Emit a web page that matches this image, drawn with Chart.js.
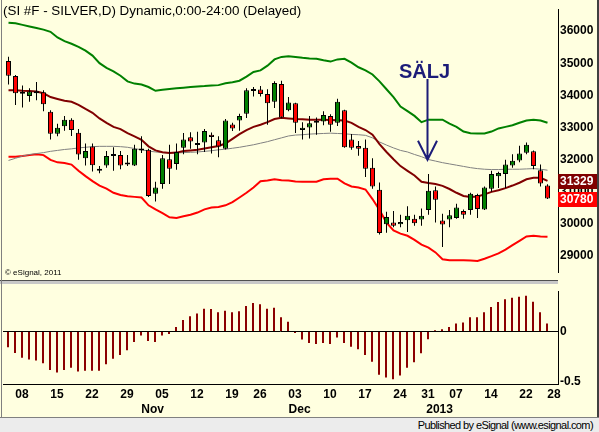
<!DOCTYPE html>
<html>
<head>
<meta charset="utf-8">
<script src="https://cdn.jsdelivr.net/npm/chart.js@4.4.1/dist/chart.umd.min.js"></script>
<style>
  html, body { margin: 0; padding: 0; background: #fff; }
  #wrap { position: relative; width: 599px; height: 432px; background: #FFFFE0; overflow: hidden; font-family: "Liberation Sans", Arial, sans-serif; }
  canvas { position: absolute; left: 0; }
  #main { top: 0; }
  #osc { top: 282px; }
  #sep { position: absolute; left: 0; top: 280px; width: 558px; height: 4px; background: #C8C8C8; border-top: 1px solid #505050; box-sizing: border-box; }
  #leftEdge { position: absolute; left: 1px; top: 0; width: 1px; height: 417px; background: #808080; }
  #rightEdge { position: absolute; left: 597px; top: 0; width: 2px; height: 432px; background: #404040; }
  #title { position: absolute; left: 3px; top: 4px; font-size: 13.4px; line-height: 14px; color: #000; white-space: nowrap; }
  #copy { position: absolute; left: 5px; top: 269px; font-size: 8px; line-height: 8px; color: #000; white-space: nowrap; }
  #footer { position: absolute; left: 0; top: 417px; width: 599px; height: 15px; background: #ECECEC; border-top: 1px solid #808080; box-sizing: border-box; }
  #footer span { position: absolute; right: 6px; top: 1px; font-size: 11px; letter-spacing: -0.6px; color: #000; white-space: nowrap; }
</style>
</head>
<body>
<div id="wrap">
  <canvas id="main" width="599" height="282"></canvas>
  <canvas id="osc" width="599" height="136"></canvas>
  <div id="sep"></div>
  <div id="leftEdge"></div>
  <div id="rightEdge"></div>
  <div id="title">(SI #F - SILVER,D) Dynamic,0:00-24:00 (Delayed)</div>
  <div id="copy">© eSignal, 2011</div>
  <div id="footer"><span>Published by eSignal (www.esignal.com)</span></div>
</div>
<script>
// daily candles, 4 Oct 2012 .. 25 Jan 2013 (index 0..77)
const openP = [35070,34600,34050,33975,34060,34090,33485,32800,33035,33240, 32830,32035,32405,31710,31810,32160,32135,31840,31810,32280, 32300,30930,31235,32005,31860,32360,32690,32445,32525,32770, 32595,32330,33090,33210,33425,34130,34180,34040,33795,34355, 33535,33750,32915,32995,33140,33180,33355,33140,33535,32620, 32415,32360,31740,31055,29980,30030,29980,30105,30145,30125, 30420,31035,30095,30125,30175,30390,30420,30890,30440,31085, 31475,31545,31810,31965,32210,32250,31665,31185];
const highP = [35200,34630,34305,34220,34415,34160,33535,33110,33355,33280, 32945,32495,32495,31790,32260,32380,32260,32135,32455,32720, 32330,31300,32135,32455,32495,32820,32850,32865,32945,32840, 32720,33260,33140,33425,34220,34255,34285,34190,34435,34455, 33945,33770,33160,33355,33310,33505,33405,33895,33550,32790, 32575,32620,32035,31280,30370,30390,30275,30540,30275,30470, 31545,31155,30305,30420,30615,30440,30960,30930,31155,31645, 31615,31985,32160,32425,32525,32280,31840,31225];
const lowP = [34335,33700,33620,33795,33845,33505,32620,32720,32895,32730, 31985,31810,31625,31565,31740,31645,31695,31790,31790,32200, 30830,30685,31085,31235,31675,32160,32330,32160,32230,32180, 32065,32310,32885,32895,33290,33965,33965,33080,33600,33280, 33505,32820,32620,32650,32770,33065,32865,33045,32360,32300, 32115,31450,31085,29655,29715,29880,29880,29735,29930,29930, 30275,30030,29265,29880,30145,30145,30275,30175,30420,30990, 31105,31105,31740,31910,32160,31695,31155,30765];
const closeP = [34610,34060,34060,34120,34120,33720,32800,32985,33240,32915, 32155,32260,31820,31645,32105,32105,31810,31840,32330,32280, 30860,31125,32035,31710,32230,32620,32555,32505,32885,32700, 32405,33210,32965,33355,34160,34150,34040,33750,34385,33310, 33775,33140,32985,33130,33140,33385,33080,33795,32380,32360, 32330,31710,31155,29705,30205,29930,30050,30245,30010,30245, 31025,30745,29970,30255,30500,30275,30930,30450,31125,31545, 31575,31840,31955,32180,32455,31790,31250,30780];

// overlay lines
const upperBand = [36263,36244,36195,36146,36097,36048,35979,35803,35686,35607, 35510,35392,35236,35001,34854,34746,34609,34433,34364,34335, 34257,34139,34169,34198,34218,34237,34257,34276,34286,34306, 34316,34374,34404,34453,34580,34727,34776,34922,35118,35196, 35216,35196,35167,35147,35138,35089,35050,35118,35138,35020, 34873,34776,34648,34433,34188,33944,33650,33503,33356,33161, 33239,33239,33239,33112,33014,32867,32818,32808,32808,32867, 32965,33014,33063,33141,33210,33239,33210,33141];
const midLine = [34159,34159,34139,34130,34120,34061,33944,33885,33826,33797, 33699,33572,33454,33278,33141,33014,32945,32818,32720,32613, 32407,32280,32221,32202,32211,32260,32280,32299,32339,32378, 32417,32495,32642,32789,32916,33014,33082,33161,33259,33298, 33278,33259,33249,33239,33239,33239,33229,33219,33210,33141, 33014,32916,32769,32476,32231,32006,31791,31644,31497,31301, 31262,31233,31174,31076,30959,30861,30831,30841,30910,30988, 31037,31105,31184,31272,31379,31428,31428,31329];
const slowLine = [31967,32035,32104,32153,32182,32211,32251,32280,32309,32329, 32358,32378,32397,32407,32407,32407,32397,32378,32339,32299, 32260,32231,32211,32202,32202,32211,32221,32231,32251,32270, 32299,32319,32348,32378,32417,32456,32505,32554,32613,32671, 32730,32759,32769,32789,32799,32808,32818,32808,32799,32779, 32769,32750,32671,32544,32446,32358,32280,32231,32153,32084, 31996,31947,31898,31859,31820,31781,31742,31712,31693,31683, 31683,31693,31693,31693,31703,31712,31693,31663];
const lowerBand = [32084,32084,32104,32133,32162,32133,31986,31908,31888,31839, 31644,31477,31321,31184,31086,30959,30890,30851,30831,30812, 30567,30440,30323,30195,30176,30225,30274,30342,30440,30499, 30518,30567,30665,30812,30959,31125,31321,31340,31379,31350, 31340,31311,31301,31301,31301,31379,31399,31399,31252,31154, 31125,31060,30763,30420,30029,29784,29686,29618,29491,29344, 29246,29099,28884,28854,28854,28854,28844,28834,28903,28982, 29070,29187,29324,29461,29598,29618,29598,29588];

// lower panel oscillator
const oscValues = [-0.156,-0.214,-0.260,-0.279,-0.288,-0.316,-0.383,-0.407,-0.383,-0.361, -0.398,-0.389,-0.389,-0.389,-0.325,-0.270,-0.233,-0.187,-0.104,-0.040, -0.095,-0.104,-0.040,-0.025,0.043,0.113,0.150,0.178,0.224,0.221, 0.190,0.205,0.190,0.199,0.251,0.282,0.270,0.224,0.233,0.141, 0.095,-0.015,-0.080,-0.116,-0.126,-0.116,-0.126,-0.061,-0.116,-0.153, -0.178,-0.233,-0.300,-0.429,-0.456,-0.475,-0.438,-0.361,-0.306,-0.217, -0.077,0.012,0.021,0.043,0.077,0.089,0.141,0.141,0.190,0.242, 0.291,0.319,0.334,0.343,0.352,0.294,0.190,0.077];

// axis ticks
const priceTicks = [29000, 30000, 31000, 32000, 33000, 34000, 35000, 36000];
const oscTicks = [-0.5, 0];
const oscTickText = ['-0.5', '0'];
const dayTickIdx = [2, 7, 12, 17, 22, 27, 32, 36, 41, 46, 51, 56, 60, 64, 69, 74, 78];
const dayTickText = ['08','15','22','29','05','12','19','26','03','10','17','24','31','07','14','22','28'];
const monthIdx = [20, 41, 61];
const monthText = ['Nov', 'Dec', '2013'];

// sell signal
const sellIdx = 60;
const sellTop = 34510;
const sellTip = 31990;
const sellText = 'SÄLJ';

const tickFont = { family: '"Liberation Sans", Arial, sans-serif', size: 12, weight: 'bold' };
const idx = closeP.map((_, i) => i);
const candleColor = closeP.map((c, i) => c > openP[i] ? '#008000' : (c < openP[i] ? '#FF0000' : '#000000'));
const xRange = { type: 'linear', min: -5.5 / 7, max: 78.5, offset: false };
// lower panel shifted half a pixel so the 2px bars land on whole pixels
const xRangeOsc = { type: 'linear', min: -5 / 7, max: 78.5 + 0.5 / 7, offset: false };

function lineSet(label, values, color, width, order) {
    return {
        type: 'line', label: label,
        data: values.map((v, i) => ({ x: i, y: v })),
        borderColor: color, borderWidth: width,
        pointRadius: 0, tension: 0, fill: false, order: order
    };
}

// sell arrow, SÄLJ label and last-value boxes
const overlays = {
    id: 'overlays',
    afterDatasetsDraw(chart) {
        const { ctx, scales: { x, y } } = chart;
        const px = Math.round(x.getPixelForValue(sellIdx)) - 0.5;
        const top = y.getPixelForValue(sellTop);
        const tip = y.getPixelForValue(sellTip);
        ctx.save();
        ctx.strokeStyle = '#1C1C78';
        ctx.lineWidth = 2;
        ctx.beginPath();
        ctx.moveTo(px, top);
        ctx.lineTo(px, tip);
        ctx.moveTo(px - 9.5, tip - 19);
        ctx.lineTo(px, tip);
        ctx.lineTo(px + 9.5, tip - 19);
        ctx.stroke();
        ctx.fillStyle = '#1C1C78';
        ctx.font = 'bold 20px "Liberation Sans", Arial, sans-serif';
        ctx.textAlign = 'center';
        ctx.textBaseline = 'alphabetic';
        ctx.fillText(sellText, px - 3, top - 1);
        ctx.restore();
    },
    afterDraw(chart) {
        const { ctx, chartArea, scales: { y } } = chart;
        const boxes = [[midLine[midLine.length - 1], '#800000'], [closeP[closeP.length - 1], '#FF0000']];
        ctx.save();
        ctx.font = 'bold 12px "Liberation Sans", Arial, sans-serif';
        ctx.textBaseline = 'middle';
        ctx.textAlign = 'left';
        boxes.forEach(([v, bg]) => {
            const py = Math.round(y.getPixelForValue(v));
            ctx.fillStyle = bg;
            ctx.fillRect(chartArea.right, py - 7, chart.width - chartArea.right, 15);
            ctx.fillStyle = '#FFFFFF';
            ctx.fillText(String(v), chartArea.right + 2, py + 1);
        });
        ctx.restore();
    }
};

new Chart(document.getElementById('main'), {
    type: 'bar',
    data: {
        datasets: [
            {
                label: 'body',
                data: idx.map(i => ({ x: i, y: [openP[i], closeP[i]] })),
                backgroundColor: candleColor, borderColor: '#000000', borderWidth: 1,
                borderSkipped: false, barThickness: 5, minBarLength: 2,
                grouped: false, inflateAmount: 0, order: 0
            },
            {
                label: 'wick',
                data: idx.map(i => ({ x: i, y: [lowP[i], highP[i]] })),
                backgroundColor: '#000000', barThickness: 1,
                grouped: false, inflateAmount: 0, order: 1
            },
            lineSet('upper', upperBand, '#008000', 2, 2),
            lineSet('mid', midLine, '#800000', 2, 3),
            lineSet('slow', slowLine, '#808080', 1, 4),
            lineSet('lower', lowerBand, '#FF0000', 2, 5)
        ]
    },
    options: {
        responsive: false,
        animation: false,
        layout: { padding: { left: 3, top: 0, bottom: 2, right: 0 } },
        plugins: { legend: { display: false }, tooltip: { enabled: false } },
        scales: {
            x: { ...xRange, display: false },
            y: {
                position: 'right', min: 28463, max: 36684,
                afterFit: s => { s.width = 41; },
                afterBuildTicks: s => { s.ticks = priceTicks.map(v => ({ value: v })); },
                grid: { display: false, drawTicks: false },
                border: { color: '#000000', width: 1 },
                ticks: { padding: 2, color: '#000000', font: tickFont, callback: v => String(v) }
            }
        }
    },
    plugins: [overlays]
});

const months = {
    id: 'months',
    afterDraw(chart) {
        const { ctx, scales: { x } } = chart;
        ctx.save();
        ctx.font = 'bold 12px "Liberation Sans", Arial, sans-serif';
        ctx.fillStyle = '#000000';
        ctx.textAlign = 'center';
        ctx.textBaseline = 'alphabetic';
        monthIdx.forEach((m, k) => ctx.fillText(monthText[k], x.getPixelForValue(m + 0.65), 131));
        ctx.restore();
    }
};

new Chart(document.getElementById('osc'), {
    type: 'bar',
    data: {
        datasets: [{
            label: 'osc',
            data: idx.map(i => ({ x: i, y: oscValues[i] })),
            backgroundColor: '#8B0000', barThickness: 2,
            grouped: false, inflateAmount: 0
        }]
    },
    options: {
        responsive: false,
        animation: false,
        layout: { padding: { left: 3, top: 2, bottom: 0, right: 0 } },
        plugins: { legend: { display: false }, tooltip: { enabled: false } },
        scales: {
            x: {
                ...xRangeOsc,
                afterFit: s => { s.height = 34; },
                afterBuildTicks: s => { s.ticks = dayTickIdx.map(v => ({ value: v })); },
                grid: { display: false, drawTicks: false },
                border: { color: '#000000', width: 1 },
                ticks: { autoSkip: false, maxRotation: 0, padding: 3, color: '#000000', font: tickFont, callback: (v, k) => dayTickText[k] }
            },
            y: {
                position: 'right', min: -0.521, max: 0.398,
                afterFit: s => { s.width = 41; },
                afterBuildTicks: s => { s.ticks = oscTicks.map(v => ({ value: v })); },
                grid: { drawTicks: false, color: c => (c.tick && c.tick.value === 0) ? '#000000' : 'rgba(0,0,0,0)' },
                border: { color: '#000000', width: 1 },
                ticks: { padding: 2, color: '#000000', font: tickFont, callback: (v, k) => oscTickText[k] }
            }
        }
    },
    plugins: [months]
});
</script>
</body>
</html>
